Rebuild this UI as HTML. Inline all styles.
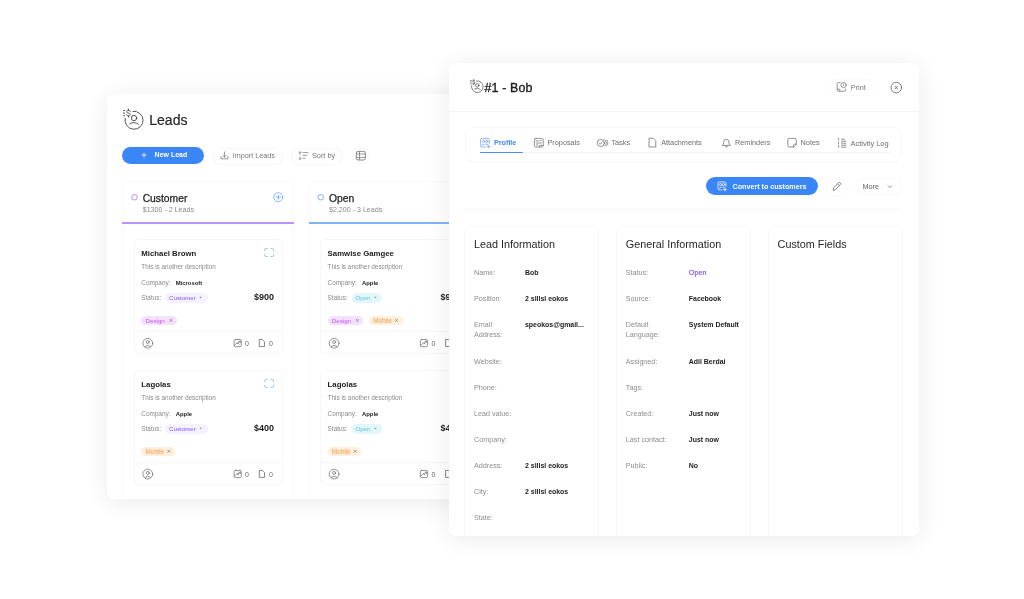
<!DOCTYPE html><html><head><meta charset="utf-8"><title>Leads</title><style>
*{box-sizing:border-box;margin:0;padding:0}
html,body{width:1024px;height:599px;overflow:hidden;background:#fff}
body{font-family:"Liberation Sans",sans-serif;color:#1f1f1f;position:relative}
.card{position:absolute;background:#fff;border-radius:7px;overflow:hidden;will-change:transform}
.sh{position:absolute;border-radius:7px}
.in{position:absolute;width:1024px;height:599px}
.t{position:absolute;white-space:nowrap;line-height:1}
.b{font-weight:bold}
.g{color:#8c8c8c}
.abs{position:absolute}
svg{position:absolute;overflow:visible}
.pill{position:absolute;border-radius:20px}
.box{position:absolute;border:1px solid #f1f1f1;border-radius:6px}
</style></head><body>
<div class="sh" style="left:107px;top:94px;width:420px;height:405px;box-shadow:0 3px 24px rgba(0,0,0,.085)"></div>
<div class="card" style="left:107px;top:94px;width:420px;height:405px"><div class="in" style="left:-107px;top:-94px">
<svg style="left:0;top:0" width="1024" height="599" fill="none" stroke="#3a3a3a" stroke-width="0.85" stroke-linecap="round"><path d="M125.20 118.38 A9.0 9.0 0 1 0 132.90 111.32"/><circle cx="134.00" cy="118.05" r="2.70"/><path d="M129.70 123.85 Q134.00 120.85 138.50 124.25"/><path d="M130.30 111.55 C130.10 110.65 129.40 110.25 128.50 110.25 C127.40 110.25 126.70 110.85 126.70 111.65 C126.70 112.55 127.50 112.85 128.50 113.05 C129.60 113.25 130.40 113.65 130.40 114.55 C130.40 115.35 129.60 115.95 128.50 115.95 C127.50 115.95 126.80 115.45 126.60 114.65 M128.50 109.15 v1.10 M128.50 115.95 v1.10"/><path d="M123.50 110.55 h1.20 M123.30 113.15 h1.40 M123.50 115.75 h1.20"/></svg>
<div class="t " style="left:149.30px;top:113px;font-size:14px;color:#262626;-webkit-text-stroke:0.2px #262626">Leads</div>
<div class="pill" style="left:122px;top:147px;width:82px;height:17px;background:#3b86f6"></div>
<svg style="left:0;top:0" width="1024" height="599" stroke="#fff" stroke-width="0.8"><path d="M141.6 155.1h4.8 M144 152.7v4.8"/></svg>
<div class="t b" style="left:154.60px;top:151px;font-size:7px;color:#fff">New Lead</div>
<div class="pill" style="left:212.5px;top:147.5px;width:70px;height:17px;border:1px solid #f7f7f7"></div>
<svg style="left:0;top:0" width="1024" height="599" fill="none" stroke="#828282" stroke-width="0.8" stroke-linecap="round" stroke-linejoin="round"><path d="M224.5 152v5 M222.6 155.2l1.9 1.9 1.9-1.9 M221 156.5v2.3h7v-2.3"/></svg>
<div class="t " style="left:232.80px;top:152px;font-size:7.2px;color:#777">Import Leads</div>
<div class="pill" style="left:290.5px;top:147.5px;width:52.5px;height:17px;border:1px solid #f7f7f7"></div>
<svg style="left:0;top:0" width="1024" height="599" fill="none" stroke="#828282" stroke-width="0.8" stroke-linecap="round" stroke-linejoin="round"><path d="M300 151.8v2.6 M299 152.8l1-1 1 1 M300 157v2.6 M299 158.6l1 1 1-1 M303 152.6h5 M303 155.4h3.6 M303 158.2h2.2"/></svg>
<div class="t " style="left:312.00px;top:152px;font-size:7.3px;color:#777">Sort by</div>
<div class="pill" style="left:352px;top:147px;width:18px;height:18px;border:1px solid #f7f7f7"></div>
<svg style="left:0;top:0" width="1024" height="599" fill="none" stroke="#707070" stroke-width="0.8" stroke-linejoin="round"><rect x="356.3" y="151.4" width="9.1" height="8.6" rx="1.7"/><path d="M356.3 154h9.1 M356.3 157.4h9.1 M359.5 151.4v8.6" stroke-width="0.7"/></svg>
<div class="abs" style="left:122.3px;top:180.5px;width:171.3px;height:330px;border:1px solid #fafafa;border-radius:5px"></div>
<div class="abs" style="left:122.3px;top:222.1px;width:171.3px;height:1.6px;background:#b992fb"></div>
<svg style="left:0;top:0" width="1024" height="599" fill="none" stroke="#ccb2fa" stroke-width="1.25"><circle cx="134.5" cy="197.2" r="2.7"/></svg>
<div class="t " style="left:142.70px;top:194px;font-size:10.3px;color:#222;-webkit-text-stroke:0.25px #222">Customer</div>
<div class="t " style="left:142.70px;top:207px;font-size:7.1px;color:#888">$1300 - 2 Leads</div>
<svg style="left:0;top:0" width="1024" height="599" fill="none" stroke="#6ea6f6" stroke-width="0.8" stroke-linecap="round"><circle cx="278.3" cy="197.2" r="4.5"/><path d="M276.1 197.2h4.4 M278.3 195v4.4"/></svg>
<div class="abs" style="left:308.6px;top:180.5px;width:171.3px;height:330px;border:1px solid #fafafa;border-radius:5px"></div>
<div class="abs" style="left:308.6px;top:222.1px;width:171.3px;height:1.6px;background:#82b3f8"></div>
<svg style="left:0;top:0" width="1024" height="599" fill="none" stroke="#a3c5f9" stroke-width="1.25"><circle cx="320.8" cy="197.2" r="2.7"/></svg>
<div class="t " style="left:329.00px;top:194px;font-size:10.3px;color:#222;-webkit-text-stroke:0.25px #222">Open</div>
<div class="t " style="left:329.00px;top:207px;font-size:7.1px;color:#888">$2,200 - 3 Leads</div>
<svg style="left:0;top:0" width="1024" height="599" fill="none" stroke="#6ea6f6" stroke-width="0.8" stroke-linecap="round"><circle cx="464.6" cy="197.2" r="4.5"/><path d="M462.40000000000003 197.2h4.4 M464.6 195v4.4"/></svg>
<div class="box" style="left:134.1px;top:238.7px;width:148.7px;height:115px;border-radius:5px;border-color:#f7f7f7"></div>
<div class="t b" style="left:141.30px;top:250px;font-size:7.8px;color:#1c1c1c">Michael Brown</div>
<div class="t " style="left:141.30px;top:264px;font-size:6.4px;color:#8a8a8a">This is another description</div>
<div class="t " style="left:141.30px;top:280px;font-size:6.4px;color:#8a8a8a">Company:</div>
<div class="t b" style="left:175.70px;top:281px;font-size:5.9px;color:#1c1c1c">Microsoft</div>
<div class="t " style="left:141.30px;top:295px;font-size:6.4px;color:#8a8a8a">Status:</div>
<div class="pill" style="left:165.29999999999998px;top:293.0px;width:42.5px;height:9.8px;background:#f6f1ff;border-radius:4.9px"></div>
<div class="t " style="left:169.10px;top:295px;font-size:6.15px;color:#8456f0">Customer</div>
<svg style="left:0;top:0" width="1024" height="599" fill="#999"><path d="M199.3 296.8h2.6l-1.3 1.7z"/></svg>
<div class="t b" style="left:254.10px;top:293px;font-size:9px;color:#1c1c1c">$900</div>
<div class="pill" style="left:141.29999999999998px;top:315.7px;width:35.8px;height:9.2px;background:#f4e1ff;border-radius:4.6px"></div>
<div class="t " style="left:145.50px;top:318px;font-size:6.2px;color:#c054ea">Design</div>
<svg style="left:0;top:0" width="1024" height="599" stroke="#777" stroke-width="0.7" stroke-linecap="round"><path d="M169.89999999999998 319.3l2.2 2.2 M172.09999999999997 319.3l-2.2 2.2"/></svg>
<div class="abs" style="left:135.1px;top:331.2px;width:146.7px;height:1px;background:#f6f6f6"></div>
<svg style="left:0;top:0" width="1024" height="599" fill="none" stroke="#666" stroke-width="0.7" stroke-linecap="round"><circle cx="147.79999999999998" cy="343.2" r="4.9"/><circle cx="147.79999999999998" cy="342.0" r="1.5"/><path d="M144.99999999999997 346.4q2.8 -2.6 5.6 0"/></svg>
<svg style="left:0;top:0" width="1024" height="599" fill="none" stroke="#666" stroke-width="0.7" stroke-linecap="round" stroke-linejoin="round"><rect x="234.1" y="339.5" width="7.2" height="7.2" rx="1.3"/><path d="M234.29999999999998 345.5l3 -3 1.6 1.6"/><path d="M238.89999999999998 341.3l1.4 0 0 1.4 M237.5 343.5l2.6 -2.2"/></svg>
<div class="t " style="left:245.10px;top:340px;font-size:7px;color:#666">0</div>
<svg style="left:0;top:0" width="1024" height="599" fill="none" stroke="#555" stroke-width="0.7" stroke-linejoin="round"><path d="M259.3 339.5h3l2.2 2.2v4.8h-5.2z"/></svg>
<div class="t " style="left:269.10px;top:340px;font-size:7px;color:#666">0</div>
<svg style="left:0;top:0" width="1024" height="599" fill="none" stroke="#8db7f8" stroke-width="0.9" stroke-linecap="round" stroke-linejoin="round"><path d="M264.70000000000005 250.7v-1.2q0 -1 1 -1h1.4 M271.1 248.5h1.4q1 0 1 1v1.2 M273.5 254.3v1.2q0 1 -1 1h-1.4 M267.1 256.5h-1.4q-1 0 -1 -1v-1.2"/></svg>
<div class="box" style="left:134.1px;top:369.6px;width:148.7px;height:115px;border-radius:5px;border-color:#f7f7f7"></div>
<div class="t b" style="left:141.30px;top:381px;font-size:7.8px;color:#1c1c1c">Lagolas</div>
<div class="t " style="left:141.30px;top:395px;font-size:6.4px;color:#8a8a8a">This is another description</div>
<div class="t " style="left:141.30px;top:411px;font-size:6.4px;color:#8a8a8a">Company:</div>
<div class="t b" style="left:175.70px;top:412px;font-size:5.9px;color:#1c1c1c">Apple</div>
<div class="t " style="left:141.30px;top:426px;font-size:6.4px;color:#8a8a8a">Status:</div>
<div class="pill" style="left:165.29999999999998px;top:423.90000000000003px;width:42.5px;height:9.8px;background:#f6f1ff;border-radius:4.9px"></div>
<div class="t " style="left:169.10px;top:426px;font-size:6.15px;color:#8456f0">Customer</div>
<svg style="left:0;top:0" width="1024" height="599" fill="#999"><path d="M199.3 427.70000000000005h2.6l-1.3 1.7z"/></svg>
<div class="t b" style="left:254.10px;top:424px;font-size:9px;color:#1c1c1c">$400</div>
<div class="pill" style="left:141.29999999999998px;top:446.6px;width:33.6px;height:9.2px;background:#ffefdc;border-radius:4.6px"></div>
<div class="t " style="left:145.50px;top:449px;font-size:6.4px;color:#f7a04e">Mobile</div>
<svg style="left:0;top:0" width="1024" height="599" stroke="#777" stroke-width="0.7" stroke-linecap="round"><path d="M167.7 450.20000000000005l2.2 2.2 M169.89999999999998 450.20000000000005l-2.2 2.2"/></svg>
<div class="abs" style="left:135.1px;top:462.1px;width:146.7px;height:1px;background:#f6f6f6"></div>
<svg style="left:0;top:0" width="1024" height="599" fill="none" stroke="#666" stroke-width="0.7" stroke-linecap="round"><circle cx="147.79999999999998" cy="474.1" r="4.9"/><circle cx="147.79999999999998" cy="472.90000000000003" r="1.5"/><path d="M144.99999999999997 477.3q2.8 -2.6 5.6 0"/></svg>
<svg style="left:0;top:0" width="1024" height="599" fill="none" stroke="#666" stroke-width="0.7" stroke-linecap="round" stroke-linejoin="round"><rect x="234.1" y="470.4" width="7.2" height="7.2" rx="1.3"/><path d="M234.29999999999998 476.4l3 -3 1.6 1.6"/><path d="M238.89999999999998 472.2l1.4 0 0 1.4 M237.5 474.4l2.6 -2.2"/></svg>
<div class="t " style="left:245.10px;top:471px;font-size:7px;color:#666">0</div>
<svg style="left:0;top:0" width="1024" height="599" fill="none" stroke="#555" stroke-width="0.7" stroke-linejoin="round"><path d="M259.3 470.40000000000003h3l2.2 2.2v4.8h-5.2z"/></svg>
<div class="t " style="left:269.10px;top:471px;font-size:7px;color:#666">0</div>
<svg style="left:0;top:0" width="1024" height="599" fill="none" stroke="#8db7f8" stroke-width="0.9" stroke-linecap="round" stroke-linejoin="round"><path d="M264.70000000000005 381.6v-1.2q0 -1 1 -1h1.4 M271.1 379.40000000000003h1.4q1 0 1 1v1.2 M273.5 385.20000000000005v1.2q0 1 -1 1h-1.4 M267.1 387.40000000000003h-1.4q-1 0 -1 -1v-1.2"/></svg>
<div class="box" style="left:320.4px;top:238.7px;width:148.7px;height:115px;border-radius:5px;border-color:#f7f7f7"></div>
<div class="t b" style="left:327.60px;top:250px;font-size:7.8px;color:#1c1c1c">Samwise Gamgee</div>
<div class="t " style="left:327.60px;top:264px;font-size:6.4px;color:#8a8a8a">This is another description</div>
<div class="t " style="left:327.60px;top:280px;font-size:6.4px;color:#8a8a8a">Company:</div>
<div class="t b" style="left:362.00px;top:281px;font-size:5.9px;color:#1c1c1c">Apple</div>
<div class="t " style="left:327.60px;top:295px;font-size:6.4px;color:#8a8a8a">Status:</div>
<div class="pill" style="left:351.7px;top:293.0px;width:30.3px;height:9.8px;background:#e3f6fa;border-radius:4.9px"></div>
<div class="t " style="left:355.40px;top:295px;font-size:6.1px;color:#62c6dc">Open</div>
<svg style="left:0;top:0" width="1024" height="599" fill="#999"><path d="M374.0 296.8h2.6l-1.3 1.7z"/></svg>
<div class="t b" style="left:440.40px;top:293px;font-size:9px;color:#1c1c1c">$900</div>
<div class="pill" style="left:327.59999999999997px;top:315.7px;width:35.8px;height:9.2px;background:#f4e1ff;border-radius:4.6px"></div>
<div class="t " style="left:331.80px;top:318px;font-size:6.2px;color:#c054ea">Design</div>
<svg style="left:0;top:0" width="1024" height="599" stroke="#777" stroke-width="0.7" stroke-linecap="round"><path d="M356.2 319.3l2.2 2.2 M358.4 319.3l-2.2 2.2"/></svg>
<div class="pill" style="left:368.99999999999994px;top:315.7px;width:33.6px;height:9.2px;background:#ffefdc;border-radius:4.6px"></div>
<div class="t " style="left:373.20px;top:318px;font-size:6.4px;color:#f7a04e">Mobile</div>
<svg style="left:0;top:0" width="1024" height="599" stroke="#777" stroke-width="0.7" stroke-linecap="round"><path d="M395.4 319.3l2.2 2.2 M397.59999999999997 319.3l-2.2 2.2"/></svg>
<div class="abs" style="left:321.4px;top:331.2px;width:146.7px;height:1px;background:#f6f6f6"></div>
<svg style="left:0;top:0" width="1024" height="599" fill="none" stroke="#666" stroke-width="0.7" stroke-linecap="round"><circle cx="334.09999999999997" cy="343.2" r="4.9"/><circle cx="334.09999999999997" cy="342.0" r="1.5"/><path d="M331.29999999999995 346.4q2.8 -2.6 5.6 0"/></svg>
<svg style="left:0;top:0" width="1024" height="599" fill="none" stroke="#666" stroke-width="0.7" stroke-linecap="round" stroke-linejoin="round"><rect x="420.4" y="339.5" width="7.2" height="7.2" rx="1.3"/><path d="M420.6 345.5l3 -3 1.6 1.6"/><path d="M425.2 341.3l1.4 0 0 1.4 M423.8 343.5l2.6 -2.2"/></svg>
<div class="t " style="left:431.40px;top:340px;font-size:7px;color:#666">0</div>
<svg style="left:0;top:0" width="1024" height="599" fill="none" stroke="#555" stroke-width="0.7" stroke-linejoin="round"><path d="M445.59999999999997 339.5h3l2.2 2.2v4.8h-5.2z"/></svg>
<div class="t " style="left:455.40px;top:340px;font-size:7px;color:#666">0</div>
<svg style="left:0;top:0" width="1024" height="599" fill="none" stroke="#8db7f8" stroke-width="0.9" stroke-linecap="round" stroke-linejoin="round"><path d="M451.0 250.7v-1.2q0 -1 1 -1h1.4 M457.4 248.5h1.4q1 0 1 1v1.2 M459.79999999999995 254.3v1.2q0 1 -1 1h-1.4 M453.4 256.5h-1.4q-1 0 -1 -1v-1.2"/></svg>
<div class="box" style="left:320.4px;top:369.6px;width:148.7px;height:115px;border-radius:5px;border-color:#f7f7f7"></div>
<div class="t b" style="left:327.60px;top:381px;font-size:7.8px;color:#1c1c1c">Lagolas</div>
<div class="t " style="left:327.60px;top:395px;font-size:6.4px;color:#8a8a8a">This is another description</div>
<div class="t " style="left:327.60px;top:411px;font-size:6.4px;color:#8a8a8a">Company:</div>
<div class="t b" style="left:362.00px;top:412px;font-size:5.9px;color:#1c1c1c">Apple</div>
<div class="t " style="left:327.60px;top:426px;font-size:6.4px;color:#8a8a8a">Status:</div>
<div class="pill" style="left:351.7px;top:423.90000000000003px;width:30.3px;height:9.8px;background:#e3f6fa;border-radius:4.9px"></div>
<div class="t " style="left:355.40px;top:426px;font-size:6.1px;color:#62c6dc">Open</div>
<svg style="left:0;top:0" width="1024" height="599" fill="#999"><path d="M374.0 427.70000000000005h2.6l-1.3 1.7z"/></svg>
<div class="t b" style="left:440.40px;top:424px;font-size:9px;color:#1c1c1c">$400</div>
<div class="pill" style="left:327.59999999999997px;top:446.6px;width:33.6px;height:9.2px;background:#ffefdc;border-radius:4.6px"></div>
<div class="t " style="left:331.80px;top:449px;font-size:6.4px;color:#f7a04e">Mobile</div>
<svg style="left:0;top:0" width="1024" height="599" stroke="#777" stroke-width="0.7" stroke-linecap="round"><path d="M354.0 450.20000000000005l2.2 2.2 M356.2 450.20000000000005l-2.2 2.2"/></svg>
<div class="abs" style="left:321.4px;top:462.1px;width:146.7px;height:1px;background:#f6f6f6"></div>
<svg style="left:0;top:0" width="1024" height="599" fill="none" stroke="#666" stroke-width="0.7" stroke-linecap="round"><circle cx="334.09999999999997" cy="474.1" r="4.9"/><circle cx="334.09999999999997" cy="472.90000000000003" r="1.5"/><path d="M331.29999999999995 477.3q2.8 -2.6 5.6 0"/></svg>
<svg style="left:0;top:0" width="1024" height="599" fill="none" stroke="#666" stroke-width="0.7" stroke-linecap="round" stroke-linejoin="round"><rect x="420.4" y="470.4" width="7.2" height="7.2" rx="1.3"/><path d="M420.6 476.4l3 -3 1.6 1.6"/><path d="M425.2 472.2l1.4 0 0 1.4 M423.8 474.4l2.6 -2.2"/></svg>
<div class="t " style="left:431.40px;top:471px;font-size:7px;color:#666">0</div>
<svg style="left:0;top:0" width="1024" height="599" fill="none" stroke="#555" stroke-width="0.7" stroke-linejoin="round"><path d="M445.59999999999997 470.40000000000003h3l2.2 2.2v4.8h-5.2z"/></svg>
<div class="t " style="left:455.40px;top:471px;font-size:7px;color:#666">0</div>
<svg style="left:0;top:0" width="1024" height="599" fill="none" stroke="#8db7f8" stroke-width="0.9" stroke-linecap="round" stroke-linejoin="round"><path d="M451.0 381.6v-1.2q0 -1 1 -1h1.4 M457.4 379.40000000000003h1.4q1 0 1 1v1.2 M459.79999999999995 385.20000000000005v1.2q0 1 -1 1h-1.4 M453.4 387.40000000000003h-1.4q-1 0 -1 -1v-1.2"/></svg>
</div></div>
<div class="sh" style="left:449px;top:63px;width:470px;height:473px;box-shadow:0 3px 24px rgba(0,0,0,.085)"></div>
<div class="card" style="left:449px;top:63px;width:470px;height:473px"><div class="in" style="left:-449px;top:-63px">
<svg style="left:0;top:0" width="1024" height="599" fill="none" stroke="#3a3a3a" stroke-width="0.65" stroke-linecap="round"><path d="M471.63 85.49 A5.8 5.8 0 1 0 476.59 80.94"/><circle cx="477.30" cy="85.28" r="1.74"/><path d="M474.53 89.02 Q477.30 87.09 480.20 89.28"/><path d="M474.92 81.09 C474.79 80.51 474.34 80.26 473.76 80.26 C473.05 80.26 472.60 80.64 472.60 81.16 C472.60 81.74 473.11 81.93 473.76 82.06 C474.46 82.19 474.98 82.45 474.98 83.03 C474.98 83.54 474.46 83.93 473.76 83.93 C473.11 83.93 472.66 83.61 472.53 83.09 M473.76 79.55 v0.71 M473.76 83.93 v0.71"/><path d="M470.53 80.45 h0.77 M470.40 82.12 h0.90 M470.53 83.80 h0.77"/></svg>
<div class="t " style="left:484.60px;top:82px;font-size:12.4px;color:#1c1c1c;-webkit-text-stroke:0.35px #1c1c1c;letter-spacing:0.14px">#1 - Bob</div>
<div class="pill" style="left:828px;top:78.5px;width:47.5px;height:17.5px;border:1px solid #fafafa"></div>
<svg style="left:0;top:0" width="1024" height="599" fill="none" stroke="#777" stroke-width="0.75" stroke-linecap="round" stroke-linejoin="round"><path d="M840.2 82.6h-2q-1 0 -1 1v6.6q0 1 1 1h6.4q1 0 1 -1v-1.4"/><circle cx="843.6" cy="85" r="2.6"/><path d="M843.6 84v1.2"/><path d="M837.4 89.2h2.4v2"/></svg>
<div class="t " style="left:850.80px;top:84px;font-size:7.3px;color:#777">Print</div>
<svg style="left:0;top:0" width="1024" height="599" fill="none" stroke="#555" stroke-width="0.75" stroke-linecap="round"><circle cx="896.3" cy="87.6" r="5.3"/><path d="M894.9 86.2l2.8 2.8 M897.7 86.2l-2.8 2.8"/></svg>
<div class="abs" style="left:449px;top:111px;width:470px;height:1px;background:#f6f6f6"></div>
<div class="abs" style="left:464.5px;top:126.8px;width:437.5px;height:35.6px;border:1px solid #f8f8f8;border-radius:8px"></div>
<div class="abs" style="left:479.5px;top:151.6px;width:412px;height:1px;background:#f3f3f3"></div>
<div class="abs" style="left:479.5px;top:151.5px;width:43.2px;height:1.5px;background:#4a8df6;border-radius:1px"></div>
<svg style="left:0;top:0" width="1024" height="599" fill="none" stroke="#76a6f7" stroke-width="0.8" stroke-linecap="round" stroke-linejoin="round"><path d="M489.4 143.4v-3.6q0 -1.4 -1.4 -1.4h-6q-1.4 0 -1.4 1.4v5.8q0 1.4 1.4 1.4h3"/><circle cx="483.6" cy="141.4" r="1.2"/><circle cx="486.8" cy="141.4" r="1.2"/><path d="M481.6 145.6q1 -2 2.6 -1.4 M485.6 144.2q1.6 -0.6 2.4 0.6"/><path d="M488.4 145v3.2 M486.8 146.6h3.2"/></svg>
<div class="t b" style="left:494.00px;top:139px;font-size:7.2px;color:#3f86f6">Profile</div>
<svg style="left:0;top:0" width="1024" height="599" fill="none" stroke="#6e6e6e" stroke-width="0.75" stroke-linecap="round" stroke-linejoin="round"><rect x="534.4" y="138.4" width="8.8" height="8.6" rx="1.5"/><path d="M536.4 140.8h2 M540 140.8h1.4 M536.4 143h4.8 M536.4 145h1.2"/><path d="M539.6 147v-1.6h3.6"/></svg>
<div class="t " style="left:547.50px;top:139px;font-size:7.3px;color:#6e6e6e">Proposals</div>
<svg style="left:0;top:0" width="1024" height="599" fill="none" stroke="#6e6e6e" stroke-width="0.75" stroke-linecap="round" stroke-linejoin="round"><circle cx="600.8" cy="142.9" r="3.6"/><path d="M599.2 143l1.2 1.2 2 -2.4"/><path d="M604.6 139.6a3.9 3.9 0 0 1 0 6.6 M606.8 140.2a3.6 3.6 0 0 1 0 5.4"/></svg>
<div class="t " style="left:611.40px;top:139px;font-size:7.3px;color:#6e6e6e">Tasks</div>
<svg style="left:0;top:0" width="1024" height="599" fill="none" stroke="#6e6e6e" stroke-width="0.75" stroke-linejoin="round"><path d="M649 138.2h4.4l2.4 2.4v6.4h-6.8z"/></svg>
<div class="t " style="left:661.20px;top:139px;font-size:7.3px;color:#6e6e6e">Attachments</div>
<svg style="left:0;top:0" width="1024" height="599" fill="none" stroke="#6e6e6e" stroke-width="0.75" stroke-linecap="round" stroke-linejoin="round"><path d="M722.6 145.2q1.2 -1 1.2 -3.4a2.5 2.5 0 0 1 5 0q0 2.4 1.2 3.4z M725.2 146.8h2.2"/></svg>
<div class="t " style="left:735.00px;top:139px;font-size:7.3px;color:#6e6e6e">Reminders</div>
<svg style="left:0;top:0" width="1024" height="599" fill="none" stroke="#6e6e6e" stroke-width="0.75" stroke-linecap="round" stroke-linejoin="round"><path d="M796.2 144.2v-4.4q0 -1.4 -1.4 -1.4h-5.6q-1.4 0 -1.4 1.4v5.8q0 1.4 1.4 1.4h4.2z"/><path d="M796.2 144.2h-1.6q-1.2 0 -1.2 1.2v1.6"/></svg>
<div class="t " style="left:800.60px;top:139px;font-size:7.3px;color:#6e6e6e">Notes</div>
<svg style="left:0;top:0" width="1024" height="599" fill="none" stroke="#6e6e6e" stroke-width="0.75" stroke-linecap="round"><path d="M838.6 138.4v1.8 M838.6 142v1.8 M838.6 145.4v1.8 M841.4 139.2h3 M841.4 141.2h4.6 M841.4 143.2h4.6 M841.4 145.2h4.6 M841.4 147.2h4.6"/></svg>
<div class="t " style="left:850.60px;top:140px;font-size:7.45px;color:#6e6e6e">Activity Log</div>
<div class="pill" style="left:705.7px;top:177.4px;width:112px;height:17.5px;background:#3b86f6"></div>
<svg style="left:0;top:0" width="1024" height="599" fill="none" stroke="#fff" stroke-width="0.75" stroke-linecap="round" stroke-linejoin="round"><path d="M726 186.4v-3.2q0 -1.3 -1.3 -1.3h-5.4q-1.3 0 -1.3 1.3v5.4q0 1.3 1.3 1.3h2.6"/><circle cx="720.6" cy="184.6" r="1.1"/><circle cx="723.6" cy="184.6" r="1.1"/><path d="M719 188.4q0.8 -1.6 2.2 -1.2 M722.6 187.2q1.4 -0.4 2 0.6"/><path d="M725 188v3 M723.5 189.5h3"/></svg>
<div class="t b" style="left:732.60px;top:184px;font-size:7.15px;color:#fff">Convert to customers</div>
<div class="pill" style="left:826px;top:176.5px;width:20px;height:20px;border:1px solid #fafafa"></div>
<svg style="left:0;top:0" width="1024" height="599" fill="none" stroke="#666" stroke-width="0.75" stroke-linecap="round" stroke-linejoin="round"><path d="M833.2 190l0.5 -2.3 4.8 -4.8q0.9 -0.9 1.8 0t0 1.8l-4.8 4.8z M837.6 183.8l1.8 1.8"/></svg>
<div class="pill" style="left:855px;top:177.5px;width:47px;height:17.5px;border:1px solid #f9f9f9"></div>
<div class="t " style="left:862.40px;top:183px;font-size:7.4px;color:#666">More</div>
<svg style="left:0;top:0" width="1024" height="599" fill="none" stroke="#666" stroke-width="0.75" stroke-linecap="round" stroke-linejoin="round"><path d="M888.2 185.8l1.7 1.7 1.7 -1.7"/></svg>
<div class="abs" style="left:464px;top:209.3px;width:438px;height:1px;background:#f6f6f6"></div>
<div class="box" style="left:464px;top:226px;width:135.4px;height:330px;border-color:#f8f8f8;border-radius:7px"></div>
<div class="t " style="left:474.00px;top:239px;font-size:10.8px;color:#262626">Lead Information</div>
<div class="t " style="left:474.00px;top:269px;font-size:7.2px;color:#8c8c8c">Name:</div>
<div class="t b" style="left:525.00px;top:270px;font-size:6.95px;color:#1c1c1c">Bob</div>
<div class="t " style="left:474.00px;top:295px;font-size:7.2px;color:#8c8c8c">Position:</div>
<div class="t b" style="left:525.00px;top:296px;font-size:6.95px;color:#1c1c1c">2 slllsl eokos</div>
<div class="t " style="left:474.00px;top:321px;font-size:7.2px;color:#8c8c8c">Email</div>
<div class="t " style="left:474.00px;top:331px;font-size:7.2px;color:#8c8c8c">Address:</div>
<div class="t b" style="left:525.00px;top:322px;font-size:6.95px;color:#1c1c1c">speokos@gmail...</div>
<div class="t " style="left:474.00px;top:358px;font-size:7.2px;color:#8c8c8c">Website:</div>
<div class="t " style="left:474.00px;top:384px;font-size:7.2px;color:#8c8c8c">Phone:</div>
<div class="t " style="left:474.00px;top:410px;font-size:7.2px;color:#8c8c8c">Lead value:</div>
<div class="t " style="left:474.00px;top:436px;font-size:7.2px;color:#8c8c8c">Company:</div>
<div class="t " style="left:474.00px;top:462px;font-size:7.2px;color:#8c8c8c">Address:</div>
<div class="t b" style="left:525.00px;top:463px;font-size:6.95px;color:#1c1c1c">2 slllsl eokos</div>
<div class="t " style="left:474.00px;top:488px;font-size:7.2px;color:#8c8c8c">City:</div>
<div class="t b" style="left:525.00px;top:489px;font-size:6.95px;color:#1c1c1c">2 slllsl eokos</div>
<div class="t " style="left:474.00px;top:514px;font-size:7.2px;color:#8c8c8c">State:</div>
<div class="box" style="left:615.8px;top:226px;width:135.4px;height:330px;border-color:#f8f8f8;border-radius:7px"></div>
<div class="t " style="left:625.80px;top:239px;font-size:10.8px;color:#262626">General Information</div>
<div class="t " style="left:625.80px;top:269px;font-size:7.2px;color:#8c8c8c">Status:</div>
<div class="t " style="left:688.80px;top:269px;font-size:7.2px;color:#8b55f3;-webkit-text-stroke:0.2px #8b55f3">Open</div>
<div class="t " style="left:625.80px;top:295px;font-size:7.2px;color:#8c8c8c">Source:</div>
<div class="t b" style="left:688.80px;top:296px;font-size:6.95px;color:#1c1c1c">Facebook</div>
<div class="t " style="left:625.80px;top:321px;font-size:7.2px;color:#8c8c8c">Default</div>
<div class="t " style="left:625.80px;top:331px;font-size:7.2px;color:#8c8c8c">Language:</div>
<div class="t b" style="left:688.80px;top:322px;font-size:6.95px;color:#1c1c1c">System Default</div>
<div class="t " style="left:625.80px;top:358px;font-size:7.2px;color:#8c8c8c">Assigned:</div>
<div class="t b" style="left:688.80px;top:359px;font-size:6.95px;color:#1c1c1c">Adil Berdai</div>
<div class="t " style="left:625.80px;top:384px;font-size:7.2px;color:#8c8c8c">Tags:</div>
<div class="t " style="left:625.80px;top:410px;font-size:7.2px;color:#8c8c8c">Created:</div>
<div class="t b" style="left:688.80px;top:411px;font-size:6.95px;color:#1c1c1c">Just now</div>
<div class="t " style="left:625.80px;top:436px;font-size:7.2px;color:#8c8c8c">Last contact:</div>
<div class="t b" style="left:688.80px;top:437px;font-size:6.95px;color:#1c1c1c">Just now</div>
<div class="t " style="left:625.80px;top:462px;font-size:7.2px;color:#8c8c8c">Public:</div>
<div class="t b" style="left:688.80px;top:463px;font-size:6.95px;color:#1c1c1c">No</div>
<div class="box" style="left:767.6px;top:226px;width:135.4px;height:330px;border-color:#f8f8f8;border-radius:7px"></div>
<div class="t " style="left:777.60px;top:239px;font-size:10.8px;color:#262626">Custom Fields</div>
</div></div>
</body></html>
